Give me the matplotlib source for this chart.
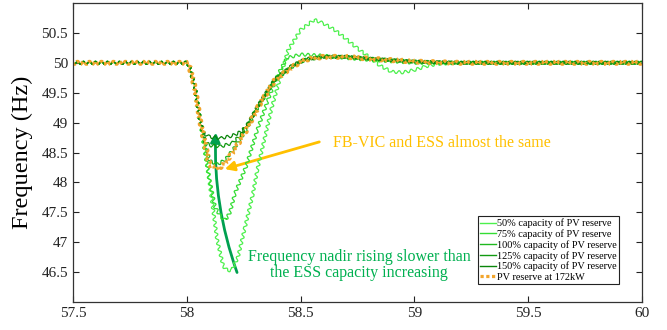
import matplotlib
matplotlib.use('Agg')
import matplotlib.pyplot as plt
from matplotlib.patches import FancyArrowPatch
from matplotlib.lines import Line2D

plt.rcParams['font.family'] = ['Liberation Serif', 'DejaVu Serif']

# Frequency curves (time in s, frequency in Hz)
t_50 = [57.5, 58.0, 58.01, 58.036, 58.06, 58.1, 58.133, 58.16, 58.18, 58.2, 58.225, 58.256,
        58.29, 58.31, 58.374, 58.445, 58.5, 58.56, 58.6, 58.65, 58.7, 58.75, 58.8, 58.85,
        58.9, 58.95, 59.0, 59.05, 59.1, 59.2, 60.0]
f_50 = [50.0, 50.0, 49.96, 49.58, 49.0, 48.0, 47.05, 46.6, 46.52, 46.55, 46.75, 47.25,
        47.8, 48.21, 49.26, 50.21, 50.55, 50.72, 50.66, 50.55, 50.4, 50.24, 50.1, 49.95,
        49.85, 49.84, 49.88, 49.94, 49.98, 50.0, 50.0]

t_75 = [57.5, 58.0, 58.01, 58.036, 58.06, 58.1, 58.124, 58.15, 58.17, 58.19, 58.212, 58.26,
        58.31, 58.357, 58.4, 58.44, 58.5, 58.6, 58.7, 58.8, 59.0, 60.0]
f_75 = [50.0, 50.0, 49.96, 49.58, 49.0, 48.05, 47.59, 47.42, 47.37, 47.5, 47.82, 48.26,
        48.88, 49.38, 49.8, 50.08, 50.14, 50.12, 50.08, 50.05, 50.0, 50.0]

t_100 = [57.5, 58.0, 58.01, 58.036, 58.06, 58.1, 58.135, 58.17, 58.21, 58.256, 58.313,
         58.387, 58.462, 58.52, 58.6, 58.7, 58.8, 59.0, 59.2, 60.0]
f_100 = [50.0, 50.0, 49.96, 49.58, 49.0, 48.36, 48.3, 48.38, 48.58, 48.85, 49.26,
         49.71, 49.93, 50.05, 50.1, 50.1, 50.07, 50.02, 50.0, 50.0]

t_125 = [57.5, 58.0, 58.01, 58.036, 58.06, 58.08, 58.1, 58.15, 58.2, 58.24, 58.27, 58.313,
         58.387, 58.462, 58.52, 58.6, 58.7, 58.8, 59.0, 59.2, 60.0]
f_125 = [50.0, 50.0, 49.96, 49.58, 49.0, 48.68, 48.62, 48.6, 48.66, 48.8, 48.98, 49.27,
         49.72, 49.94, 50.05, 50.1, 50.1, 50.07, 50.02, 50.0, 50.0]

t_150 = [57.5, 58.0, 58.01, 58.036, 58.06, 58.075, 58.1, 58.15, 58.2, 58.24, 58.27, 58.313,
         58.387, 58.462, 58.52, 58.6, 58.7, 58.8, 59.0, 59.2, 60.0]
f_150 = [50.0, 50.0, 49.96, 49.58, 49.0, 48.82, 48.76, 48.74, 48.78, 48.85, 48.98, 49.28,
         49.72, 49.95, 50.06, 50.1, 50.1, 50.07, 50.02, 50.0, 50.0]

t_pv = [57.5, 58.0, 58.01, 58.036, 58.06, 58.1, 58.137, 58.168, 58.21, 58.256, 58.313,
        58.387, 58.462, 58.52, 58.6, 58.7, 58.8, 59.0, 59.2, 60.0]
f_pv = [50.0, 50.0, 49.96, 49.58, 49.0, 48.29, 48.22, 48.32, 48.55, 48.83, 49.26,
        49.71, 49.93, 50.05, 50.1, 50.1, 50.07, 50.02, 50.0, 50.0]

labels = ['50% capacity of PV reserve', '75% capacity of PV reserve',
          '100% capacity of PV reserve', '125% capacity of PV reserve',
          '150% capacity of PV reserve', 'PV reserve at 172kW']
x_ticks = [57.5, 58, 58.5, 59, 59.5, 60]
x_ticklabels = ['57.5', '58', '58.5', '59', '59.5', '60']
y_ticks = [46.5, 47, 47.5, 48, 48.5, 49, 49.5, 50, 50.5]
y_ticklabels = ['46.5', '47', '47.5', '48', '48.5', '49', '49.5', '50', '50.5']

green_colors = ['#4cf04c', '#33dd33', '#1fb81f', '#119a11', '#0a850a']
orange = '#f2a52c'
pv_dots = (0, (1, 0.8))

fig = plt.figure(figsize=(6.67, 3.3), dpi=100)
ax = fig.add_axes([0.1094, 0.0848, 0.8531, 0.9061])

series = [(t_50, f_50), (t_75, f_75), (t_100, f_100), (t_125, f_125), (t_150, f_150)]
for (t, f), c in zip(series, green_colors):
    ln, = ax.plot(t, f, color=c, lw=0.9)
    ln.set_sketch_params(scale=1.6, length=6.0, randomness=1.0)  # ripple look

ln, = ax.plot(t_pv, f_pv, color=orange, lw=2.3, linestyle=pv_dots)
ln.set_sketch_params(scale=1.6, length=6.0, randomness=1.0)

ax.set_xlim(57.5, 60)
ax.set_ylim(46, 51)
ax.set_xticks(x_ticks)
ax.set_xticklabels(x_ticklabels)
ax.set_yticks(y_ticks)
ax.set_yticklabels(y_ticklabels)
ax.tick_params(direction='in', top=True, right=True, length=4, width=0.8,
               labelsize=11, colors='#222222')
for s in ax.spines.values():
    s.set_color('#333333')
    s.set_linewidth(0.9)
ax.set_ylabel('Frequency (Hz)', fontsize=17.5, labelpad=6)

# legend with clean (un-sketched) handles
handles = [Line2D([], [], color=c, lw=1.0) for c in green_colors]
handles.append(Line2D([], [], color=orange, lw=2.3, linestyle=pv_dots))
leg = ax.legend(handles, labels, loc='lower right', bbox_to_anchor=(0.9596, 0.06),
                borderaxespad=0, fontsize=7.4, handlelength=1.5, handletextpad=0.1,
                labelspacing=0.1, borderpad=0.25, fancybox=False, framealpha=1,
                edgecolor='#222222')
leg.get_frame().set_linewidth(0.8)

# annotations
ax.text(58.642, 48.66, 'FB-VIC and ESS almost the same', color='#ffc000',
        fontsize=11.5, ha='left', va='center')
ax.add_patch(FancyArrowPatch((58.594, 48.69), (58.155, 48.21), arrowstyle='-|>',
                             mutation_scale=14, color='#ffc000', lw=2))

ax.text(58.757, 46.62, 'Frequency nadir rising slower than\nthe ESS capacity increasing',
        color='#00b050', fontsize=11.5, ha='center', va='center', linespacing=1.0)
ax.add_patch(FancyArrowPatch((58.225, 46.45), (58.128, 48.88), arrowstyle='-|>',
                             connectionstyle='arc3,rad=-0.1', mutation_scale=14,
                             color='#00a050', lw=2))

fig.savefig('out.png', dpi=100)
